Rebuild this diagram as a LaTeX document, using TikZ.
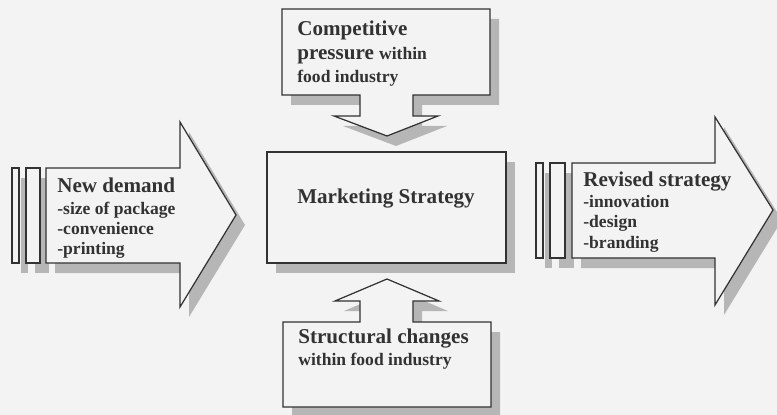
\documentclass[tikz,border=0pt]{standalone}
\usepackage{fontspec}
\setmainfont{Liberation Serif}
\usetikzlibrary{positioning}
\definecolor{PaperGrey}{RGB}{243,243,243}
\definecolor{EdgeGrey}{RGB}{50,50,50}
\definecolor{ShadeGrey}{RGB}{182,182,182}

\begin{document}
\begin{tikzpicture}[x=0.02cm,y=-0.02cm,
    block/.style={draw=EdgeGrey,fill=PaperGrey,line width=0.7pt,
                  preaction={fill=ShadeGrey,transform canvas={shift={(9,10)}}}},
    head/.style={font=\fontsize{12}{13.3}\selectfont\bfseries,
                 anchor=north west,inner sep=0pt,align=left,text=EdgeGrey},
    items/.style={font=\fontsize{10}{11.4}\selectfont\bfseries,
                  anchor=north west,inner sep=0pt,align=left,text=EdgeGrey}
  ]
  \fill[PaperGrey] (0,0) rectangle (777,415);
  \useasboundingbox (0,0) rectangle (777,415);

  % demand arrow on the left
  \draw[block] (12,168) rectangle (19,263);
  \draw[block] (26,168) rectangle (40,263);
  \draw[block] (46,168) -- (180,168) -- (180,122) -- (236,215)
               -- (180,307) -- (180,263) -- (46,263) -- cycle;

  % revised strategy arrow on the right
  \draw[block] (536,163) rectangle (543,258);
  \draw[block] (550,163) rectangle (565,258);
  \draw[block] (572,163) -- (715,163) -- (715,117) -- (773,210)
               -- (715,305) -- (715,258) -- (572,258) -- cycle;

  % callout from above
  \draw[block] (282,9) -- (490,9) -- (490,95) -- (413,95) -- (413,116)
               -- (438,116) -- (387,136) -- (334,116) -- (360,116)
               -- (360,95) -- (282,95) -- cycle;

  % callout from below
  \draw[block] (283,322) -- (360,322) -- (360,301) -- (335,301)
               -- (387,279) -- (439,301) -- (413,301) -- (413,322)
               -- (491,322) -- (491,407) -- (283,407) -- cycle;

  % centre box
  \draw[block] (267,152) rectangle (506,263);

  % texts
  \node[head] (demand) at (57,178) {New demand};
  \node[items] (demanditems) at (57,202) {-size of package\\-convenience\\-printing};
  \node[head] (revised) at (583,172) {Revised strategy};
  \node[items,font=\fontsize{10}{11.6}\selectfont\bfseries] (reviseditems) at (583,195)
       {-innovation\\-design\\-branding};
  \node[head] (pressure) at (297,21)
       {Competitive\\pressure {\fontsize{10}{13.3}\selectfont within}\\
        {\fontsize{10}{13.3}\selectfont food industry}};
  \node[head,font=\fontsize{12}{12.5}\selectfont\bfseries] (structure) at (298,329)
       {Structural changes\\{\fontsize{10}{12.5}\selectfont within food industry}};
  \node[font=\fontsize{12}{13.3}\selectfont\bfseries,inner sep=0pt,text=EdgeGrey]
       (strategy) at (386,199) {Marketing Strategy};
\end{tikzpicture}
\end{document}
